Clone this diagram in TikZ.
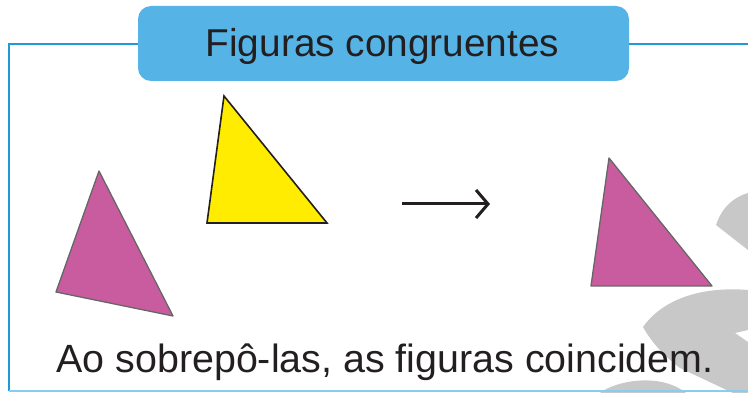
\documentclass[tikz,border=0pt]{standalone}
\usepackage{fontspec}
\setmainfont{Liberation Sans}
\usetikzlibrary{arrows.meta}
\definecolor{framebl}{HTML}{1E9AD6}
\definecolor{lightbl}{HTML}{86CDEF}
\definecolor{titlebl}{HTML}{56B3E6}
\definecolor{magent}{HTML}{C95C9F}
\definecolor{yell}{HTML}{FFEC00}
\definecolor{wmgray}{HTML}{C8C8C8}
\definecolor{ink}{HTML}{231F20}
\tikzset{
  frameline/.style={draw=framebl, line width=2.4pt},
  magtri/.style={fill=magent, draw=black!60, line width=1.3pt, line join=round},
  yeltri/.style={fill=yell, draw=ink, line width=1.6pt, line join=miter},
  wmark/.style={fill=wmgray, draw=none},
  titletxt/.style={text=ink, font=\fontsize{38.8}{44}\selectfont, inner sep=0pt},
  captxt/.style={text=ink, font=\fontsize{39.4}{44}\selectfont, inner sep=0pt},
}
\begin{document}
\begin{tikzpicture}[x=1pt,y=-1pt]
\useasboundingbox (0,0) rectangle (748,393);
% watermark fragments
\fill[wmark] (716,225) .. controls (722,207) and (734,197) .. (748,193) -- (748,250) -- cycle;
\fill[wmark] (643,327) .. controls (662,300) and (700,286) .. (748,290) -- (748,330) -- (735,333) -- (748,342) -- (748,393) -- (733,393) -- (680,368) .. controls (665,357) and (652,343) .. cycle;
\fill[wmark] (600,393) .. controls (615,381) and (660,372) .. (686,393) -- cycle;
% frame
\coordinate (ftl) at (9,44);
\coordinate (ftr) at (748,44);
\coordinate (fbl) at (9,391);
\coordinate (fbr) at (748,391);
\draw[frameline] (ftr) -- (ftl) -- (fbl);
\draw[draw=lightbl, line width=1.6pt] (fbl) -- (fbr);
% title
\node[fill=titlebl, rounded corners=13pt, minimum width=491pt, minimum height=75pt, inner sep=0pt] (title) at (383.5,43.5) {};
\node[titletxt, anchor=base] (titletext) at (382.5,57) {Figuras congruentes};
% triangles
\draw[magtri] (99,171) -- (56,292) -- (173,316) -- cycle;
\draw[yeltri] (224,96) -- (207,223) -- (327,223) -- cycle;
\draw[magtri] (609,158) -- (591,286) -- (712,286) -- cycle;
% arrow
\coordinate (a1) at (402,204);
\coordinate (a2) at (490,204);
\draw[ink, line width=3pt, -{Straight Barb[length=12pt,width=28pt]}] (a1) -- (a2);
% caption
\node[captxt, anchor=base] (caption) at (385,372) {Ao sobrepô-las, as figuras coincidem.};
\end{tikzpicture}
\end{document}
